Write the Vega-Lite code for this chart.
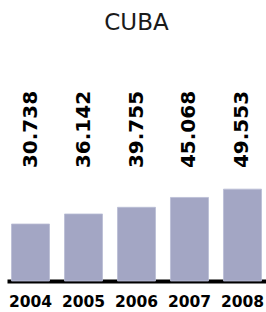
{
  "$schema": "https://vega.github.io/schema/vega-lite/v6.json",
  "width": 259,
  "height": 241,
  "autosize": "none",
  "padding": {"left": 7, "top": 40, "right": 0, "bottom": 31},
  "background": "white",
  "title": {"text": "CUBA", "font": "DejaVu Sans", "fontSize": 23, "fontWeight": "normal", "color": "#1a1a1a", "offset": 5, "anchor": "middle", "frame": "bounds"},
  "data": {"values": [
    {"year": "2004", "value": 30.738, "label": "30.738"},
    {"year": "2005", "value": 36.142, "label": "36.142"},
    {"year": "2006", "value": 39.755, "label": "39.755"},
    {"year": "2007", "value": 45.068, "label": "45.068"},
    {"year": "2008", "value": 49.553, "label": "49.553"}
  ]},
  "encoding": {
    "x": {"field": "year", "type": "nominal", "scale": {"paddingInner": 0.283, "paddingOuter": 0.085},
      "axis": {"title": null, "ticks": false, "domainColor": "#000", "domainWidth": 4, "labelAngle": 0, "labelFont": "DejaVu Sans", "labelFontWeight": "bold", "labelFontSize": 15.5, "labelColor": "#000", "labelPadding": 13}}
  },
  "layer": [
    {"mark": {"type": "bar", "color": "#a3a6c4", "stroke": "#b9bcd4", "strokeWidth": 0.8},
     "encoding": {"y": {"field": "value", "type": "quantitative", "scale": {"domain": [0, 128.7]}, "axis": null}}},
    {"mark": {"type": "text", "angle": 270, "align": "left", "baseline": "middle", "font": "DejaVu Sans", "fontWeight": "bold", "fontSize": 20, "color": "#000", "dx": 0},
     "encoding": {"y": {"datum": 60.9, "type": "quantitative"}, "text": {"field": "label"}}}
  ],
  "config": {"view": {"stroke": null}}
}
